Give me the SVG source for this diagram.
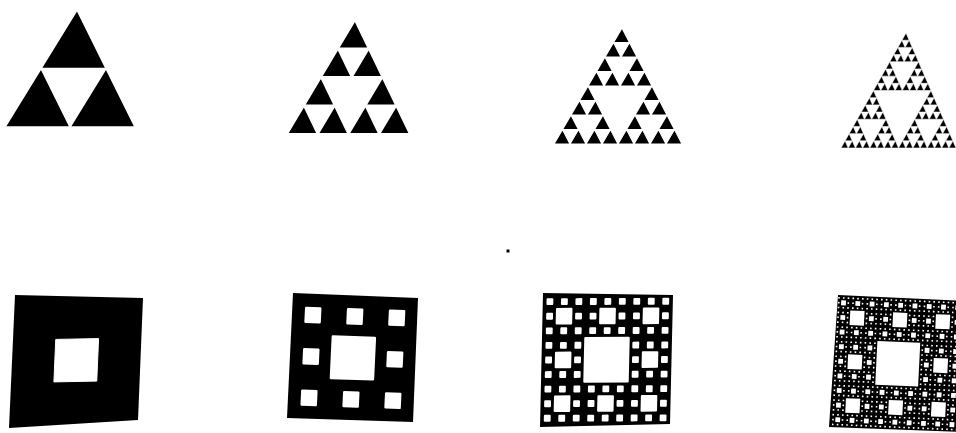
<svg xmlns="http://www.w3.org/2000/svg" width="956" height="433" viewBox="0 0 956 433">
<style>
.tri{fill:#000;stroke:#fff;stroke-linejoin:miter}
.hole{fill:#fff;stroke:#fff;stroke-linejoin:round}
.sq{fill:#000}
</style>
<defs>
<polygon id="t0" points="0,1 1,1 0.5,0" vector-effect="non-scaling-stroke"/>
<g id="t1"><use href="#t0" transform="translate(0,0.5) scale(0.5)"/><use href="#t0" transform="translate(0.5,0.5) scale(0.5)"/><use href="#t0" transform="translate(0.25,0) scale(0.5)"/></g>
<g id="t2"><use href="#t1" transform="translate(0,0.5) scale(0.5)"/><use href="#t1" transform="translate(0.5,0.5) scale(0.5)"/><use href="#t1" transform="translate(0.25,0) scale(0.5)"/></g>
<g id="t3"><use href="#t2" transform="translate(0,0.5) scale(0.5)"/><use href="#t2" transform="translate(0.5,0.5) scale(0.5)"/><use href="#t2" transform="translate(0.25,0) scale(0.5)"/></g>
<g id="t4"><use href="#t3" transform="translate(0,0.5) scale(0.5)"/><use href="#t3" transform="translate(0.5,0.5) scale(0.5)"/><use href="#t3" transform="translate(0.25,0) scale(0.5)"/></g>
<rect id="h0" x="0.3333" y="0.3333" width="0.3334" height="0.3334" vector-effect="non-scaling-stroke"/>
<g id="c2"><use href="#h0"/>
<use href="#h0" transform="translate(0,0) scale(0.33333)"/><use href="#h0" transform="translate(0.33333,0) scale(0.33333)"/><use href="#h0" transform="translate(0.66667,0) scale(0.33333)"/>
<use href="#h0" transform="translate(0,0.33333) scale(0.33333)"/><use href="#h0" transform="translate(0.66667,0.33333) scale(0.33333)"/>
<use href="#h0" transform="translate(0,0.66667) scale(0.33333)"/><use href="#h0" transform="translate(0.33333,0.66667) scale(0.33333)"/><use href="#h0" transform="translate(0.66667,0.66667) scale(0.33333)"/></g>
<g id="c3"><use href="#h0"/>
<use href="#c2" transform="translate(0,0) scale(0.33333)"/><use href="#c2" transform="translate(0.33333,0) scale(0.33333)"/><use href="#c2" transform="translate(0.66667,0) scale(0.33333)"/>
<use href="#c2" transform="translate(0,0.33333) scale(0.33333)"/><use href="#c2" transform="translate(0.66667,0.33333) scale(0.33333)"/>
<use href="#c2" transform="translate(0,0.66667) scale(0.33333)"/><use href="#c2" transform="translate(0.33333,0.66667) scale(0.33333)"/><use href="#c2" transform="translate(0.66667,0.66667) scale(0.33333)"/></g>
<g id="c4"><use href="#h0"/>
<use href="#c3" transform="translate(0,0) scale(0.33333)"/><use href="#c3" transform="translate(0.33333,0) scale(0.33333)"/><use href="#c3" transform="translate(0.66667,0) scale(0.33333)"/>
<use href="#c3" transform="translate(0,0.33333) scale(0.33333)"/><use href="#c3" transform="translate(0.66667,0.33333) scale(0.33333)"/>
<use href="#c3" transform="translate(0,0.66667) scale(0.33333)"/><use href="#c3" transform="translate(0.33333,0.66667) scale(0.33333)"/><use href="#c3" transform="translate(0.66667,0.66667) scale(0.33333)"/></g>
</defs>
<rect width="956" height="433" fill="#fff"/>
<g id="triangle-1"><use href="#t1" class="tri" stroke-width="1.5" transform="matrix(130,0,-7,117,12,10)"/></g>
<g id="triangle-2"><use href="#t2" class="tri" stroke-width="2" transform="matrix(123,0,-6.5,114,293.5,20)"/></g>
<g id="triangle-3"><use href="#t3" class="tri" stroke-width="1.2" transform="matrix(128,0,-4,116,558,28)"/></g>
<g id="triangle-4"><use href="#t4" class="tri" stroke-width="0.6" transform="matrix(115,0,-7.5,115,848.5,33)"/></g>
<g id="carpet-1"><polygon class="sq" points="15,295 143,298 138,420 9,428"/><use href="#h0" class="hole" stroke-width="1" transform="matrix(128.5,-2.5,-5.5,127.5,14.75,297.75)"/></g>
<g id="carpet-2"><polygon class="sq" points="293,293 418,298 413,422 287,418"/><use href="#c2" class="hole" stroke-width="2.5" transform="matrix(125.8,4.2,-5.8,124.2,292.9,293.7)"/></g>
<g id="carpet-3"><polygon class="sq" points="543,293 673,295 670,424 540,427"/><use href="#c3" class="hole" stroke-width="2" transform="matrix(130.3,-0.5,-3,131.2,542.85,294.4)"/></g>
<g id="carpet-4"><polygon class="sq" points="838,295 964,301 960,432 829,427"/><use href="#c4" class="hole" stroke-width="0" transform="matrix(128.5,5.5,-6.5,131.5,836.75,295.25)"/></g>
<rect id="dot" x="506.5" y="249.5" width="3" height="3" fill="#000"/>
</svg>
